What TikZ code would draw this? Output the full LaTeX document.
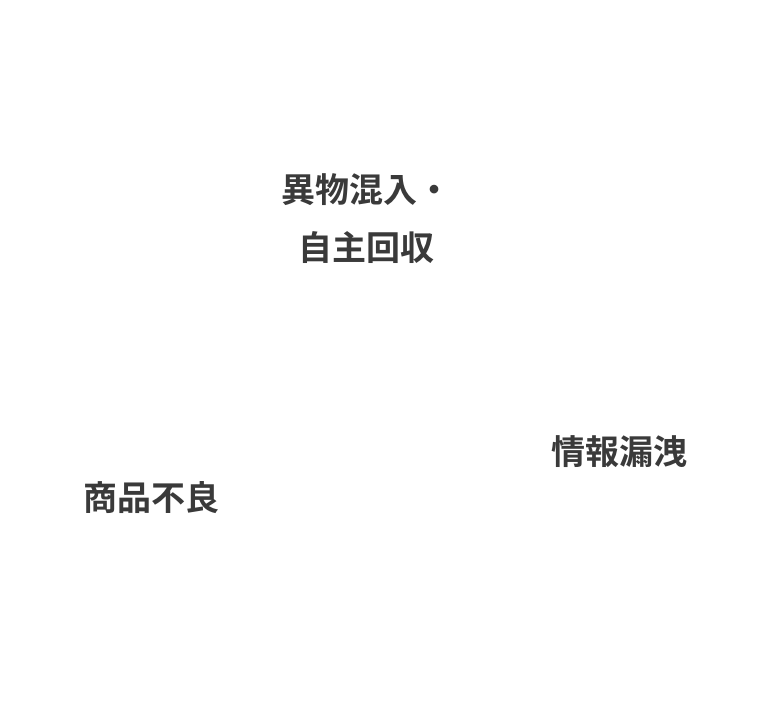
\documentclass[tikz,border=0pt]{standalone}
\usepackage{fontspec}
\newfontfamily\cjk{Noto Sans CJK JP}[BoldFont={* Bold}]

\definecolor{labelgray}{HTML}{3A3A3A}

\tikzset{
  risklabel/.style={inner sep=0pt, align=center, text=labelgray,
    font=\cjk\bfseries\fontsize{34pt}{58pt}\selectfont}
}

\begin{document}
\begin{tikzpicture}[x=1pt,y=-1pt]
  \useasboundingbox (0,0) rectangle (782,715);

  \node[risklabel] (recall) at (366,219) {異物混入・\\自主回収};
  \node[risklabel] (leak) at (619,452) {情報漏洩};
  \node[risklabel] (defect) at (151,498) {商品不良};
\end{tikzpicture}
\end{document}
